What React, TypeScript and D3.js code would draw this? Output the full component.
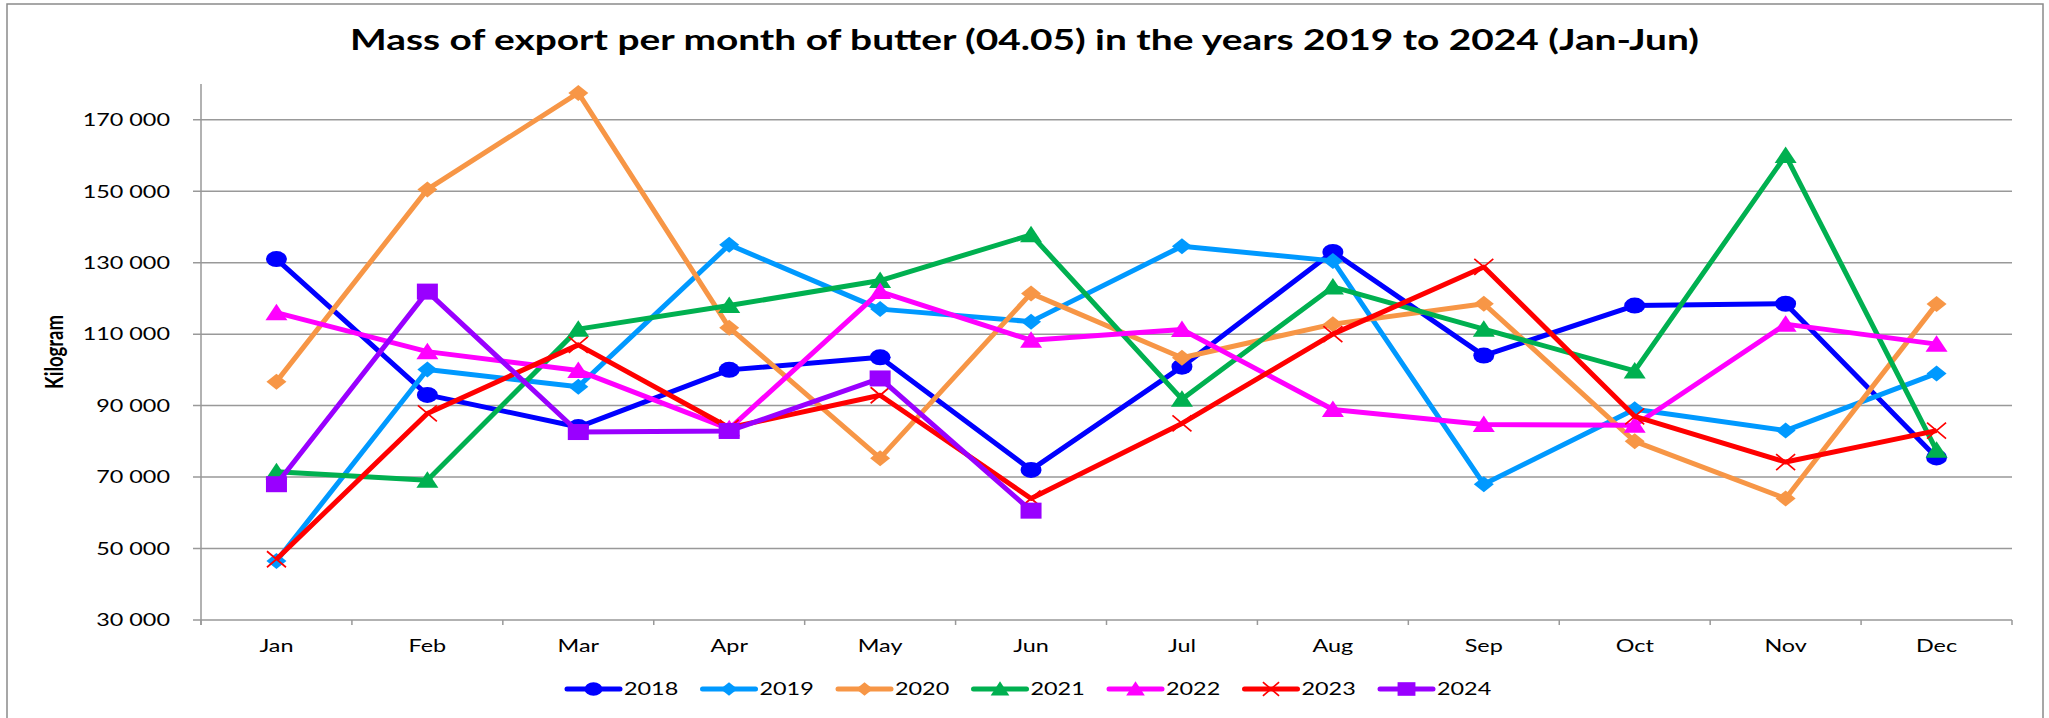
import * as d3 from 'd3';

const months = ['Jan', 'Feb', 'Mar', 'Apr', 'May', 'Jun', 'Jul', 'Aug', 'Sep', 'Oct', 'Nov', 'Dec'];
const years = ['2018', '2019', '2020', '2021', '2022', '2023', '2024'];

const v2018 = [131000, 93000, 84000, 100000, 103500, 72000, 100900, 133000, 104000, 118000, 118500, 75500];
const v2019 = [46500, 100100, 95300, 135000, 117000, 113500, 134600, 130500, 68000, 89000, 83000, 99000];
const v2020 = [96700, 150500, 177500, 111800, 75300, 121400, 103400, 112800, 118500, 80000, 64000, 118400];
const v2021 = [71500, 69100, 111400, 118000, 125000, 137800, 91800, 123200, 111400, 99700, 160000, 77500];
const v2022 = [116000, 105100, 99800, 83500, 121900, 108300, 111300, 88900, 84700, 84500, 112800, 107200];
const v2023 = [47000, 87800, 107000, 83800, 92900, 64000, 85000, 110000, 128800, 87000, 74200, 83000];
const v2024 = [68000, 121900, 82600, 82900, 97600, 60600];

const seriesValues = [v2018, v2019, v2020, v2021, v2022, v2023, v2024];
const colors = ['#0000FF', '#0099FF', '#F79646', '#00B050', '#FF00FF', '#FF0000', '#9900FF'];
const markers = ['circle', 'diamond', 'diamond', 'triangle', 'triangle', 'x', 'square'];
const yTicks = [30000, 50000, 70000, 90000, 110000, 130000, 150000, 170000];

const W = 2049;
const H = 718;
const left = 201;
const right = 2012;
const top = 84;
const bottom = 620;
const font = 'Lato, "Open Sans", sans-serif';
// the original picture is stretched sideways, so text and markers are too
const sx = 1.3;

const x = d3.scaleBand().domain(months).range([left, right]);
const y = d3.scaleLinear().domain([30000, 180000]).range([bottom, top]);
const fmt = (v: number) => d3.format(',')(v).replace(/,/g, ' ');
const cxOf = (i: number) => (x(months[i]) as number) + x.bandwidth() / 2;

function Marker({ kind, color, cx, cy, k = 1 }: { kind: string; color: string; cx: number; cy: number; k?: number }) {
  const t = `translate(${cx},${cy}) scale(${k})`;
  if (kind === 'x') {
    return (
      <path d="M-9.5,-8L9.5,8M-9.5,8L9.5,-8" transform={t} stroke={color} strokeWidth={1.7 / k} fill="none" />
    );
  }
  if (kind === 'circle') return <ellipse rx={10.5} ry={8} transform={t} fill={color} />;
  if (kind === 'square') return <rect x={-10.5} y={-8} width={21} height={16} transform={t} fill={color} />;
  if (kind === 'triangle') return <path d="M0,-9L11,7.5L-11,7.5Z" transform={t} fill={color} />;
  return <path d="M0,-8L10,0L0,8L-10,0Z" transform={t} fill={color} />;
}

export default function App() {
  const line = d3
    .line<number>()
    .x((_, i) => cxOf(i))
    .y((d) => y(d));

  const legendX0 = 567;
  const legendStep = 135.5;
  const legendY = 689;

  return (
    <svg width={W} height={H} style={{ position: 'absolute', left: 0, top: 0, background: '#fff' }} fontFamily={font}>
      <rect x={7} y={4} width={2036} height={730} fill="#fff" stroke="#8a8a8a" strokeWidth={1.5} />

      <text transform={`translate(1024.5,50) scale(1.34,1)`} textAnchor="middle" fontSize={29} fontWeight="bold" fill="#000">
        Mass of export per month of butter (04.05) in the years 2019 to 2024 (Jan-Jun)
      </text>

      {yTicks.map((t) => (
        <g key={t}>
          <line x1={left - 8} x2={right} y1={y(t)} y2={y(t)} stroke="#999" strokeWidth={1.5} />
          <text
            transform={`translate(170,${y(t)}) scale(${sx},1)`}
            dy="0.35em"
            textAnchor="end"
            fontSize={18}
            fill="#000"
          >
            {fmt(t)}
          </text>
        </g>
      ))}

      <line x1={left} x2={left} y1={top} y2={bottom + 5} stroke="#999" strokeWidth={1.5} />
      {[...months.map((m) => x(m) as number), right].map((px, i) => (
        <line key={i} x1={px} x2={px} y1={bottom} y2={bottom + 5} stroke="#999" strokeWidth={1.5} />
      ))}
      {months.map((m, i) => (
        <text key={m} transform={`translate(${cxOf(i)},652) scale(${sx},1)`} textAnchor="middle" fontSize={18} fill="#000">
          {m}
        </text>
      ))}

      <text
        transform={`translate(63,352) scale(${sx},1) rotate(-90)`}
        textAnchor="middle"
        fontSize={18.5}
        fontWeight="bold"
        fill="#000"
      >
        Kilogram
      </text>

      {seriesValues.map((vals, si) => (
        <g key={years[si]}>
          <path d={line(vals) || ''} fill="none" stroke={colors[si]} strokeWidth={5} strokeLinejoin="round" />
          {vals.map((v, i) => (
            <Marker key={i} kind={markers[si]} color={colors[si]} cx={cxOf(i)} cy={y(v)} />
          ))}
        </g>
      ))}

      {years.map((yr, i) => {
        const lx = legendX0 + i * legendStep;
        return (
          <g key={yr}>
            <line x1={lx} x2={lx + 53} y1={legendY} y2={legendY} stroke={colors[i]} strokeWidth={5} strokeLinecap="round" />
            <Marker kind={markers[i]} color={colors[i]} cx={lx + 26.5} cy={legendY} k={0.85} />
            <text transform={`translate(${lx + 57},${legendY}) scale(${sx},1)`} dy="0.35em" fontSize={18} fill="#000">
              {yr}
            </text>
          </g>
        );
      })}
    </svg>
  );
}
